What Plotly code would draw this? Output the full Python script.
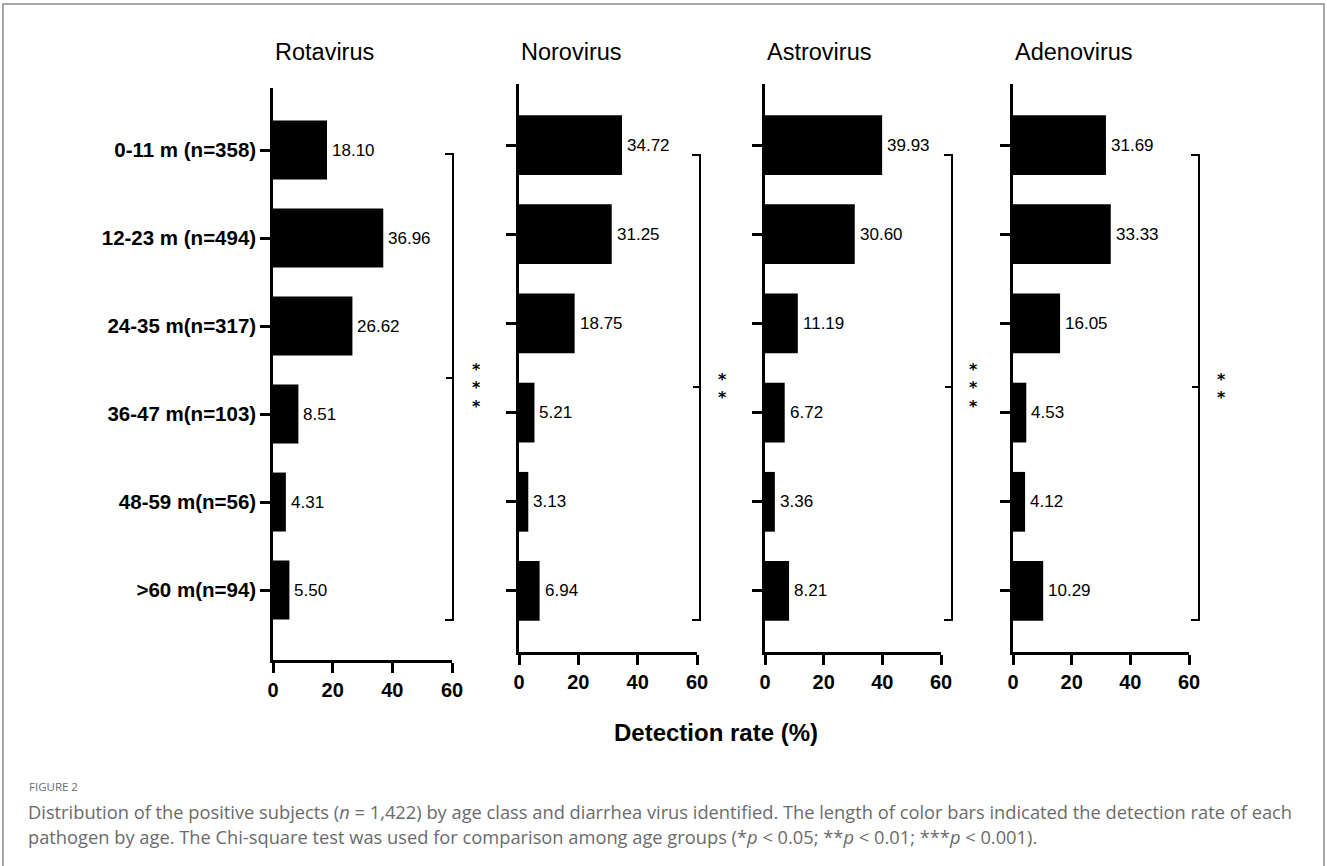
import plotly.graph_objects as go

W, H = 1327, 866

age_groups = ["0-11 m (n=358)", "12-23 m (n=494)", "24-35 m(n=317)",
              "36-47 m(n=103)", "48-59 m(n=56)", ">60 m(n=94)"]
viruses = ["Rotavirus", "Norovirus", "Astrovirus", "Adenovirus"]
rotavirus = [18.10, 36.96, 26.62, 8.51, 4.31, 5.50]
norovirus = [34.72, 31.25, 18.75, 5.21, 3.13, 6.94]
astrovirus = [39.93, 30.60, 11.19, 6.72, 3.36, 8.21]
adenovirus = [31.69, 33.33, 16.05, 4.53, 4.12, 10.29]
significance = ["***", "**", "***", "**"]
x_ticks = [0, 20, 40, 60]

series = [rotavirus, norovirus, astrovirus, adenovirus]

# layout in pixels for each panel
panels = [
    dict(x0=273, x1=452, top=88, bot=660, rng=[5.795, -0.705], br_x=453, br_top=154, br_bot=620, br_mid=378, star_x=476),
    dict(x0=519, x1=697, top=84, bot=652, rng=[5.684, -0.684], br_x=700, br_top=155, br_bot=620, br_mid=387, star_x=722),
    dict(x0=765, x1=941, top=84, bot=652, rng=[5.684, -0.684], br_x=952, br_top=155, br_bot=620, br_mid=387, star_x=973),
    dict(x0=1013, x1=1189, top=84, bot=652, rng=[5.684, -0.684], br_x=1199, br_top=155, br_bot=620, br_mid=387, star_x=1221),
]


def px(x):
    return x / W


def py(y):
    return 1 - y / H


fig = go.Figure()
annotations = []
shapes = []
FONT = "Arial, Liberation Sans, sans-serif"

for i, (name, vals, p, sig) in enumerate(zip(viruses, series, panels, significance)):
    n = "" if i == 0 else str(i + 1)
    xa, ya = "x" + n, "y" + n
    fig.add_trace(go.Bar(
        x=vals, y=age_groups, orientation="h", width=0.67,
        marker=dict(color="black", line=dict(width=0)),
        xaxis=xa, yaxis=ya, showlegend=False, hoverinfo="x+y"))
    axis_common = dict(showline=True, linecolor="black", linewidth=2.5,
                       ticks="outside", ticklen=10, tickwidth=2.5, tickcolor="black",
                       showgrid=False, zeroline=False, automargin=False)
    fig.update_layout(**{
        ("xaxis" + n): dict(domain=[px(p["x0"]), px(p["x1"])], range=[0, 60],
                            tickvals=x_ticks, anchor=ya,
                            tickfont=dict(family=FONT, size=20, color="black", weight="bold"),
                            **axis_common),
        ("yaxis" + n): dict(domain=[py(p["bot"]), py(p["top"])], range=p["rng"],
                            type="category", categoryorder="array", categoryarray=age_groups,
                            anchor=xa, showticklabels=(i == 0),
                            tickfont=dict(family=FONT, size=20.5, color="black", weight="bold"),
                            **axis_common),
    })
    # value labels
    for v, g in zip(vals, age_groups):
        annotations.append(dict(x=v, y=g, xref=xa, yref=ya, text=f"{v:.2f}",
                                showarrow=False, xanchor="left", yanchor="middle",
                                xshift=3, font=dict(family=FONT, size=17, color="black")))
    # panel title
    annotations.append(dict(x=px(p["x0"]), y=py(52), xref="paper", yref="paper", text=name,
                            showarrow=False, xanchor="left", yanchor="middle",
                            font=dict(family=FONT, size=23.5, color="black")))
    # bracket
    bx, bt, bb, bm = p["br_x"], p["br_top"], p["br_bot"], p["br_mid"]
    path = (f"M {px(bx-8)},{py(bt)} L {px(bx)},{py(bt)} L {px(bx)},{py(bb)} L {px(bx-8)},{py(bb)} "
            f"M {px(bx)},{py(bm)} L {px(bx-7)},{py(bm)}")
    shapes.append(dict(type="path", xref="paper", yref="paper", path=path,
                       line=dict(color="black", width=2)))
    # stars (one annotation, stacked lines)
    star_text = "<br>".join(["<span style='font-family:DejaVu Sans;font-size:15.8px'><b>*</b></span>"] * len(sig))
    annotations.append(dict(x=px(p["star_x"]), y=py(388), xref="paper", yref="paper", text=star_text,
                            showarrow=False, xanchor="center", yanchor="middle",
                            font=dict(family=FONT, size=14.2, color="black")))

# x-axis title
annotations.append(dict(x=px(716), y=py(732), xref="paper", yref="paper", text="<b>Detection rate (%)</b>",
                        showarrow=False, xanchor="center", yanchor="middle",
                        font=dict(family=FONT, size=24, color="black")))
# caption
CAP = "Open Sans, Lato, sans-serif"
annotations.append(dict(x=px(27), y=py(786), xref="paper", yref="paper", text="FIGURE 2",
                        showarrow=False, xanchor="left", yanchor="middle",
                        font=dict(family=CAP, size=11.5, color="#6b6b6b")))
annotations.append(dict(x=px(26), y=py(811.5), xref="paper", yref="paper",
                        text="Distribution of the positive subjects (<i>n</i> = 1,422) by age class and diarrhea virus identified. "
                             "The length of color bars indicated the detection rate of each",
                        showarrow=False, xanchor="left", yanchor="middle",
                        font=dict(family=CAP, size=18.3, color="#6b6b6b")))
annotations.append(dict(x=px(26), y=py(836.5), xref="paper", yref="paper",
                        text="pathogen by age. The Chi-square test was used for comparison among age groups "
                             "(*<i>p</i> &lt; 0.05; **<i>p</i> &lt; 0.01; ***<i>p</i> &lt; 0.001).",
                        showarrow=False, xanchor="left", yanchor="middle",
                        font=dict(family=CAP, size=18.3, color="#6b6b6b")))

# outer border
shapes.append(dict(type="rect", xref="paper", yref="paper", x0=px(3), x1=px(1324), y0=py(880), y1=py(4),
                   line=dict(color="#8a8a8a", width=1.5), layer="below"))

fig.update_layout(width=W, height=H, autosize=False,
                  margin=dict(l=0, r=0, t=0, b=0, autoexpand=False),
                  paper_bgcolor="white", plot_bgcolor="white",
                  annotations=annotations, shapes=shapes, bargap=0.33)

fig.write_html("out.html",
               config={"responsive": False, "displayModeBar": False},
               post_script="document.body.style.margin='0px';document.body.style.overflow='hidden';")
